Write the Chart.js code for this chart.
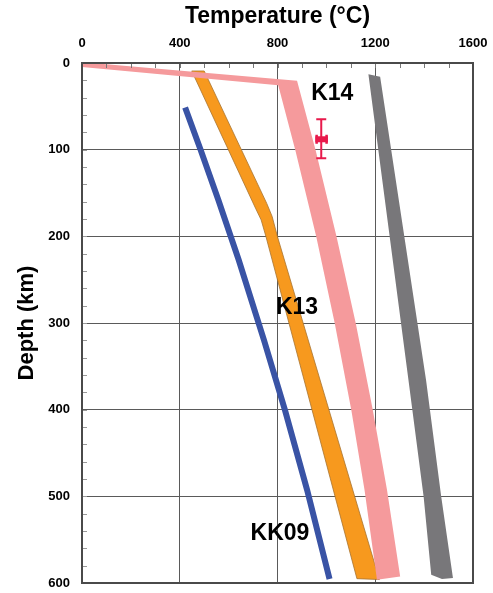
<!DOCTYPE html>
<html>
<head>
<meta charset="utf-8">
<script src="https://cdn.jsdelivr.net/npm/chart.js@4.4.1/dist/chart.umd.min.js"></script>
<style>
  html, body { margin: 0; padding: 0; background: #fff; }
  canvas { display: block; }
</style>
</head>
<body>
<canvas id="c" width="493" height="593"></canvas>
<script>
// ---- Data (temperature °C, depth km) ----
const xTicks = [0, 400, 800, 1200, 1600];
const yTicks = [0, 100, 200, 300, 400, 500, 600];

// K14 band (pink) polygon outline
const k14Temp  = [0, 880, 956, 1041, 1120, 1190, 1248, 1302, 1207, 1156, 1102, 1034, 958, 873, 803, 0];
const k14Depth = [-1, 20.5, 100.6, 199.7, 300, 400.3, 492.5, 592.4, 596.2, 492.5, 400.3, 300, 199.7, 100.6, 25.7, 4.6];

// K13 band (orange) polygon outline
const k13Temp  = [449, 500, 756, 778, 800, 1217, 1125, 753, 733, 710, 449];
const k13Depth = [9.2, 9.2, 162, 177, 200.5, 596, 595, 200.5, 181, 167.5, 9.2];

// Grey band polygon outline
const greyTemp  = [1172, 1220, 1408, 1470, 1518, 1473, 1429, 1398, 1336, 1172];
const greyDepth = [13, 16, 366, 500.6, 594.2, 595.4, 590.4, 500.6, 366, 13];

// KK09 geotherm (blue line)
const kk09Temp  = [422, 486, 558, 641, 745, 830, 921, 1013];
const kk09Depth = [51.4, 100.6, 158, 227, 320, 400, 492.5, 595.4];

// Data point with error bars
const obsTemp = [979], obsTempLo = [955], obsTempHi = [1006];
const obsDepth = [88], obsDepthLo = [65], obsDepthHi = [110];

// Curve labels
const labelText  = ['K14', 'K13', 'KK09'];
const labelTemp  = [1024, 880, 810];
const labelDepth = [34, 281, 542];

const FONT = '"Liberation Sans", Arial, Helvetica, sans-serif';

function pts(xs, ys) { return xs.map((x, i) => ({ x: x, y: ys[i] })); }

const decor = {
  id: 'decor',
  afterDraw(chart) {
    const ctx = chart.ctx, xs = chart.scales.x, ys = chart.scales.y, a = chart.chartArea;
    ctx.save();
    // minor inward ticks
    ctx.strokeStyle = '#777';
    ctx.lineWidth = 1;
    for (let t = 100; t < 1600; t += 100) {
      const px = Math.round(xs.getPixelForValue(t)) + 0.5;
      ctx.beginPath(); ctx.moveTo(px, a.top); ctx.lineTo(px, a.top + 5); ctx.stroke();
    }
    ctx.strokeStyle = '#999';
    for (let d = 20; d < 600; d += 20) {
      const py = Math.round(ys.getPixelForValue(d)) + 0.5;
      ctx.beginPath(); ctx.moveTo(a.left, py); ctx.lineTo(a.left + 5, py); ctx.stroke();
    }
    // frame
    ctx.strokeStyle = '#4a4a4a';
    ctx.lineWidth = 2;
    ctx.strokeRect(a.left, a.top, a.right - a.left, a.bottom - a.top);

    // error bar
    ctx.strokeStyle = '#e8194b';
    ctx.fillStyle = '#e8194b';
    for (let i = 0; i < obsTemp.length; i++) {
      const cx = xs.getPixelForValue(obsTemp[i]);
      const cy = ys.getPixelForValue(obsDepth[i]);
      const y0 = ys.getPixelForValue(obsDepthLo[i]);
      const y1 = ys.getPixelForValue(obsDepthHi[i]);
      const x0 = xs.getPixelForValue(obsTempLo[i]);
      const x1 = xs.getPixelForValue(obsTempHi[i]);
      ctx.lineWidth = 2;
      ctx.beginPath();
      ctx.moveTo(cx, y0); ctx.lineTo(cx, y1);
      ctx.moveTo(cx - 5, y0); ctx.lineTo(cx + 5, y0);
      ctx.moveTo(cx - 5, y1); ctx.lineTo(cx + 5, y1);
      ctx.stroke();
      ctx.fillRect(x0, cy - 3, x1 - x0, 6);
      ctx.fillRect(x0, cy - 4.5, 2.5, 9);
      ctx.fillRect(x1 - 2.5, cy - 4.5, 2.5, 9);
    }

    // labels
    ctx.fillStyle = '#000';
    ctx.font = 'bold 23px ' + FONT;
    ctx.textAlign = 'center';
    ctx.textBaseline = 'middle';
    for (let i = 0; i < labelText.length; i++) {
      ctx.fillText(labelText[i], xs.getPixelForValue(labelTemp[i]), ys.getPixelForValue(labelDepth[i]) + 1);
    }
    ctx.restore();
  }
};

function zeroPad(s) { s.paddingLeft = 0; s.paddingRight = 0; s.paddingTop = 0; s.paddingBottom = 0; }

new Chart(document.getElementById('c'), {
  type: 'line',
  data: {
    datasets: [
      {
        label: 'grey', data: pts(greyTemp, greyDepth),
        borderColor: 'rgba(0,0,0,0)', borderWidth: 0, backgroundColor: '#78777a',
        fill: 'shape', pointRadius: 0, tension: 0
      },
      {
        label: 'K14', data: pts(k14Temp, k14Depth),
        borderColor: 'rgba(0,0,0,0)', borderWidth: 0, backgroundColor: '#f59a9c',
        fill: 'shape', pointRadius: 0, tension: 0
      },
      {
        label: 'K13', data: pts(k13Temp, k13Depth),
        borderColor: '#a87330', borderWidth: 0.8, backgroundColor: '#f7991e',
        fill: 'shape', pointRadius: 0, tension: 0
      },
      {
        label: 'KK09', data: pts(kk09Temp, kk09Depth),
        borderColor: '#3953a5', borderWidth: 6, borderCapStyle: 'butt',
        fill: false, pointRadius: 0, tension: 0
      }
    ]
  },
  options: {
    responsive: false,
    animation: false,
    events: [],
    layout: { padding: { left: 0, top: 0, right: 20, bottom: 10 } },
    plugins: { legend: { display: false }, tooltip: { enabled: false } },
    scales: {
      x: {
        type: 'linear', position: 'top', min: 0, max: 1600, z: 1,
        afterBuildTicks(s) { s.ticks = xTicks.map(v => ({ value: v })); },
        afterFit(s) { s.height = 63; zeroPad(s); },
        ticks: { color: '#000', padding: 12, font: { family: FONT, size: 13, weight: 'bold' },
                 callback: v => String(v) },
        grid: { color: '#5a5a5a', lineWidth: 1, drawTicks: false },
        border: { display: false },
        title: { display: true, text: 'Temperature (°C)', color: '#000',
                 font: { family: FONT, size: 23, weight: 'bold' }, padding: { top: 3, bottom: 0 } }
      },
      y: {
        type: 'linear', reverse: true, min: 0, max: 600, z: 1,
        afterBuildTicks(s) { s.ticks = yTicks.map(v => ({ value: v })); },
        afterFit(s) { s.width = 82; zeroPad(s); },
        ticks: { color: '#000', padding: 12, font: { family: FONT, size: 13, weight: 'bold' },
                 callback: v => String(v) },
        grid: { color: '#5a5a5a', lineWidth: 1, drawTicks: false },
        border: { display: false },
        title: { display: true, text: 'Depth (km)', color: '#000',
                 font: { family: FONT, size: 22, weight: 'bold' }, padding: { top: 14, bottom: 0 } }
      }
    }
  },
  plugins: [decor]
});
</script>
</body>
</html>
